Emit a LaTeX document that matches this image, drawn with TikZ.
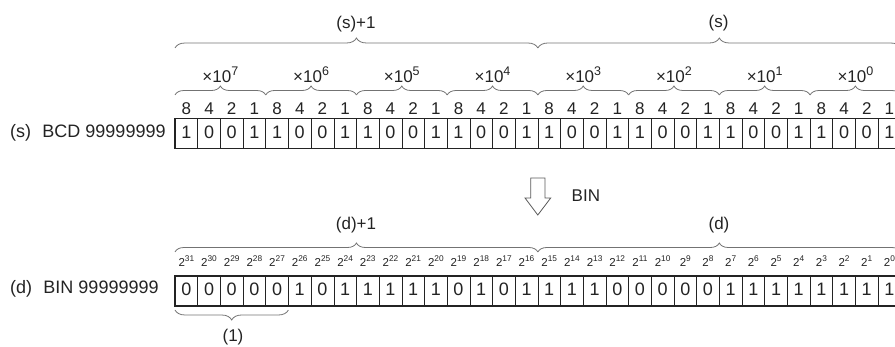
\documentclass[tikz,border=0pt]{standalone}
\usepackage{fontspec}
\setmainfont{Liberation Sans}
\usetikzlibrary{decorations.pathreplacing}
\definecolor{txt}{RGB}{35,35,35}
\definecolor{brc}{RGB}{115,115,115}
\definecolor{arw}{RGB}{90,90,90}
\newcommand{\pw}[1]{2\raisebox{0.45em}{\fontsize{8.3}{9}\selectfont #1}}
\newcommand{\tn}[1]{\texttimes10\raisebox{0.42em}{\fontsize{12.5}{13}\selectfont #1}}
\tikzset{
  bitcell/.style={draw=txt, line width=0.5pt, minimum width=22.68pt, minimum height=30pt,
    inner sep=0pt, outer sep=0pt, text height=13.3pt, text depth=3.5pt,
    font=\fontsize{18}{20}\selectfont, text=txt, anchor=north west},
  frame/.style={draw=txt, line width=1.1pt},
  lbl/.style={font=\fontsize{17}{19}\selectfont, inner sep=0pt, text=txt},
  rowlbl/.style={font=\fontsize{18}{20}\selectfont, inner sep=0pt, text=txt, anchor=base west},
  weight/.style={font=\fontsize{17}{19}\selectfont, inner sep=0pt, text=txt, anchor=base},
  expo/.style={font=\fontsize{11.5}{13}\selectfont, inner sep=0pt, text=txt, anchor=base},
  bigbrace/.style={draw=brc, line width=0.8pt, decorate, decoration={brace, amplitude=9pt}},
  arrowshape/.style={draw=arw, line width=0.8pt, fill=white},
}
\begin{document}
\begin{tikzpicture}[x=1pt, y=-1pt]
\useasboundingbox (0,0) rectangle (895,347);
\clip (0,0) rectangle (895,347);
% ---- source row (BCD)
\foreach \b [count=\i from 0] in {1,0,0,1,1,0,0,1,1,0,0,1,1,0,0,1,1,0,0,1,1,0,0,1,1,0,0,1,1,0,0,1}
  \node[bitcell] (s\i) at ({175+\i*22.68},118.5) {\b};
\draw[frame] (s0.north west) rectangle (s31.south east);
\foreach \w [count=\i from 0] in {8,4,2,1,8,4,2,1,8,4,2,1,8,4,2,1,8,4,2,1,8,4,2,1,8,4,2,1,8,4,2,1}
  \node[weight] (w\i) at ({175+(\i+0.5)*22.68},115) {\w};
\node[rowlbl] (slabel) at (10,138) {(s)\hspace{0.35em} BCD 99999999};
% decade braces
\foreach \e [count=\k from 0] in {7,6,5,4,3,2,1,0}{
  \pgfmathtruncatemacro{\a}{4*\k}
  \pgfmathtruncatemacro{\z}{4*\k+3}
  \draw[bigbrace] ([yshift=23.5pt]s\a.north west) -- ([yshift=23.5pt]s\z.north east);
  \node[lbl] (dec\e) at ({175+(4*\k+2)*22.68},75) {\tn{\e}};
}
% word braces
\draw[bigbrace, decoration={amplitude=10pt}] ([yshift=70.5pt]s0.north west) -- ([yshift=70.5pt]s15.north east);
\draw[bigbrace, decoration={amplitude=10pt}] ([yshift=70.5pt]s16.north west) -- ([yshift=70.5pt]s31.north east);
\node[lbl] (shi) at (356,24.5) {(s)+1};
\node[lbl] (slo) at (718.5,23) {(s)};
% ---- conversion arrow
\draw[arrowshape] (530.7,178) -- (530.7,198) -- (525,198) -- (537.8,215) -- (550.7,198) -- (545,198) -- (545,178) -- cycle;
\node[lbl, anchor=west] (bin) at (571.5,195.5) {BIN};
% ---- destination row (BIN)
\foreach \b [count=\i from 0] in {0,0,0,0,0,1,0,1,1,1,1,1,0,1,0,1,1,1,1,0,0,0,0,0,1,1,1,1,1,1,1,1}
  \node[bitcell] (d\i) at ({175+\i*22.68},276) {\b};
\draw[frame] (d0.north west) rectangle (d31.south east);
\foreach \i in {0,...,31}{
  \pgfmathtruncatemacro{\p}{31-\i}
  \node[expo] (e\i) at ({175+(\i+0.5)*22.68},267) {\pw{\p}};
}
\node[rowlbl] (dlabel) at (10,293.5) {(d)\hspace{0.35em} BIN 99999999};
\draw[bigbrace] ([yshift=24pt]d0.north west) -- ([yshift=24pt]d15.north east);
\draw[bigbrace] ([yshift=24pt]d16.north west) -- ([yshift=24pt]d31.north east);
\node[lbl] (dhi) at (356,225) {(d)+1};
\node[lbl] (dlo) at (719,225.5) {(d)};
\draw[bigbrace, decoration={amplitude=10pt}] ([yshift=-4pt]d4.south east) -- ([yshift=-4pt]d0.south west);
\node[lbl] (one) at (233,337.5) {(1)};
\end{tikzpicture}
\end{document}
